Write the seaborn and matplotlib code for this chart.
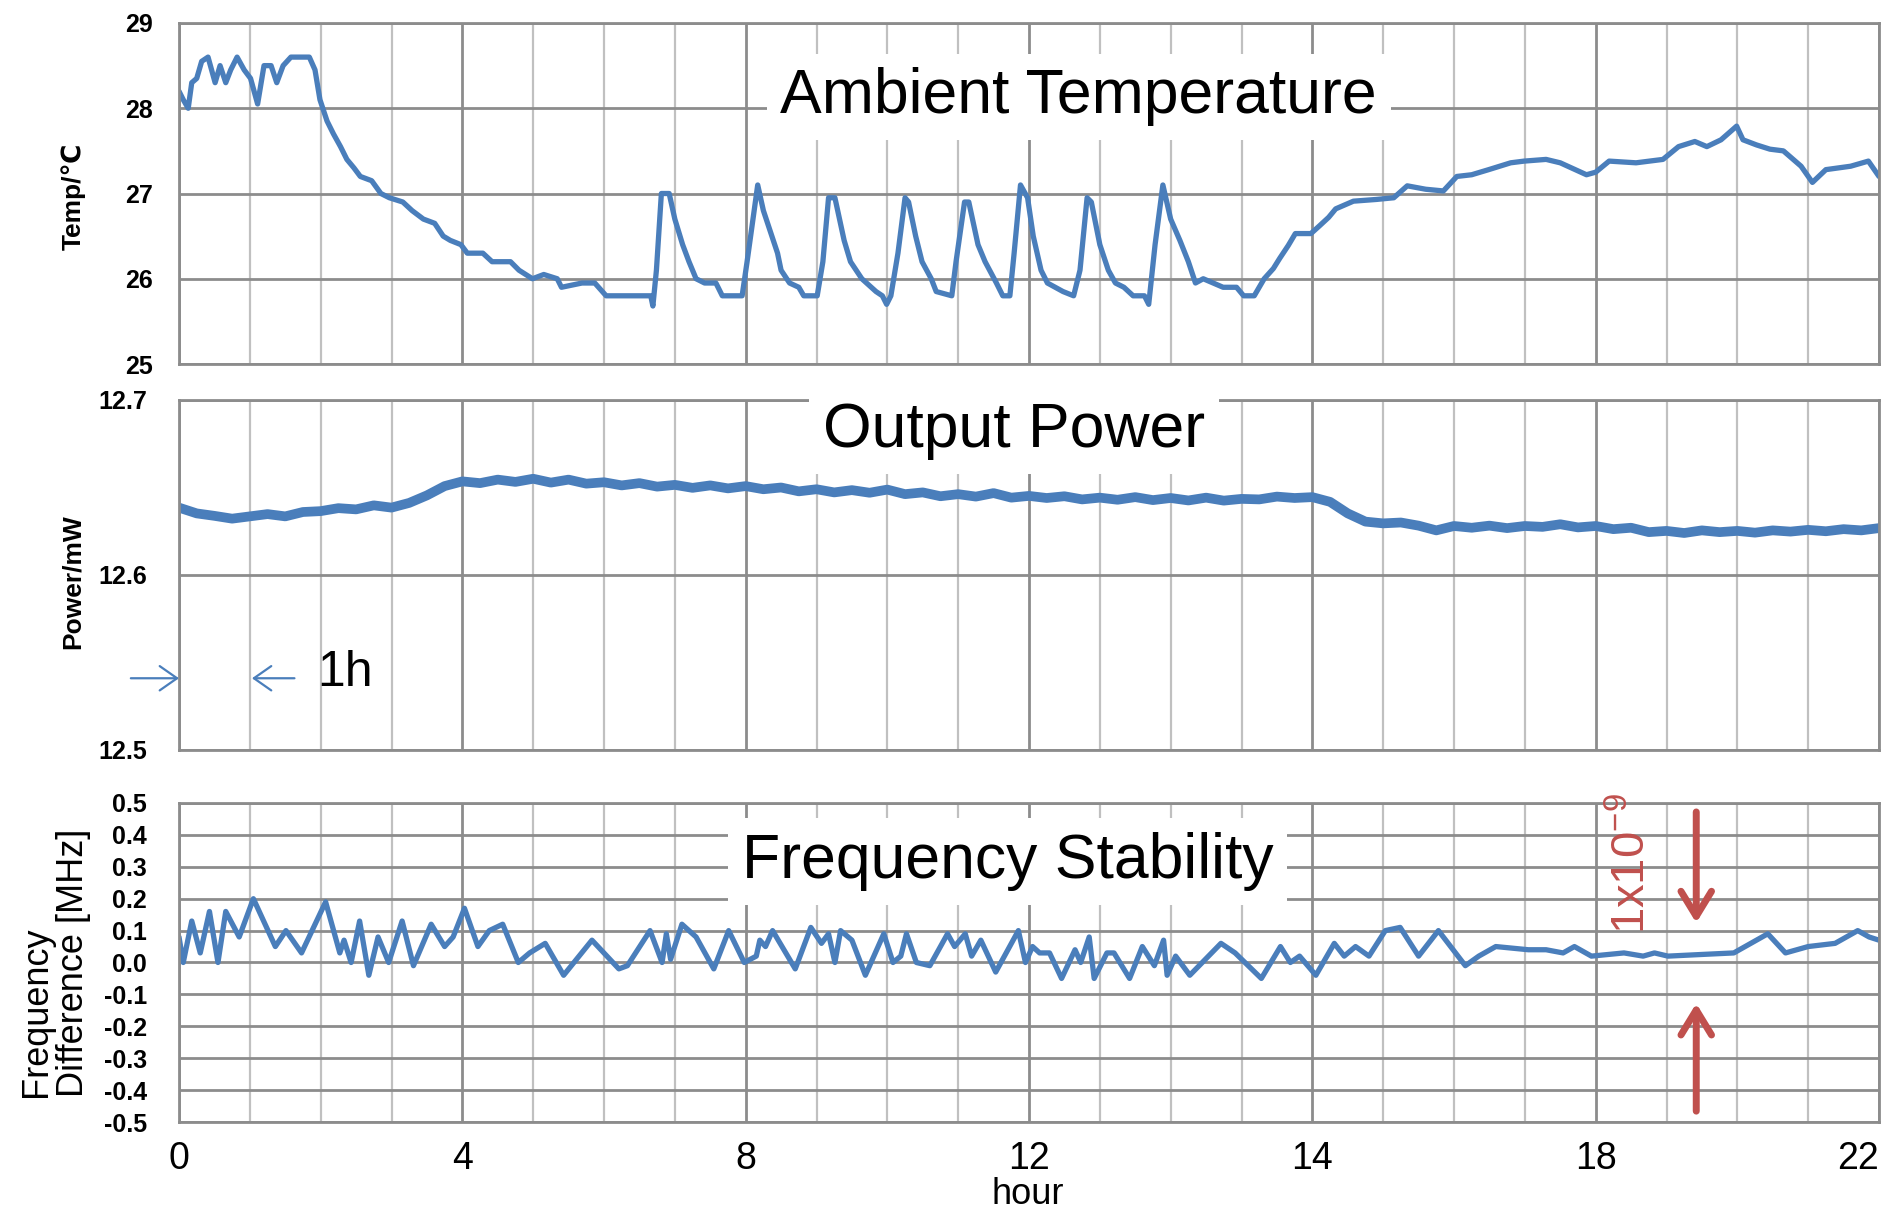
import matplotlib
matplotlib.use("Agg")
import matplotlib.pyplot as plt
from matplotlib.ticker import MultipleLocator
import seaborn as sns

# Style
sns.set_style("white")
plt.rcParams['font.family'] = ['Liberation Sans', 'DejaVu Sans']
plt.rcParams['mathtext.fontset'] = 'custom'
plt.rcParams['mathtext.rm'] = 'Liberation Sans'
plt.rcParams['mathtext.default'] = 'regular'
plt.rcParams['text.color'] = 'black'
plt.rcParams['xtick.color'] = 'black'
plt.rcParams['ytick.color'] = 'black'

NARROW = ['Liberation Sans Narrow', 'Liberation Sans', 'DejaVu Sans']
BLUE = '#4a7ebb'
RED = '#c0504d'
MAJOR_GRID = '#8c8c8c'
MINOR_GRID = '#c0c0c0'

# Ambient temperature (hour, degC)
TEMP_HOURS = [0.0, 0.06, 0.13, 0.18, 0.25, 0.32, 0.41, 0.51, 0.58, 0.66,
              0.73, 0.82, 0.92, 1.01, 1.11, 1.2, 1.3, 1.38, 1.47, 1.58,
              1.84, 1.92, 1.99, 2.09, 2.18, 2.28, 2.37, 2.47, 2.56, 2.72,
              2.85, 2.97, 3.16, 3.29, 3.45, 3.61, 3.73, 3.83, 3.98, 4.07,
              4.29, 4.42, 4.68, 4.8, 4.99, 5.15, 5.34, 5.4, 5.69, 5.87,
              6.03, 6.66, 6.69, 6.74, 6.81, 6.92, 7.0, 7.11, 7.2, 7.3,
              7.42, 7.58, 7.67, 7.95, 8.02, 8.17, 8.25, 8.35, 8.45, 8.5,
              8.62, 8.75, 8.82, 9.01, 9.09, 9.17, 9.26, 9.39, 9.48, 9.64,
              9.84, 9.93, 9.99, 10.05, 10.15, 10.25, 10.3, 10.4, 10.49, 10.62,
              10.69, 10.91, 10.97, 11.09, 11.15, 11.28, 11.38, 11.54, 11.63, 11.73,
              11.79, 11.88, 11.98, 12.06, 12.17, 12.26, 12.48, 12.63, 12.72, 12.82,
              12.88, 13.0, 13.12, 13.22, 13.34, 13.47, 13.63, 13.69, 13.78, 13.89,
              14.0, 14.13, 14.25, 14.35, 14.46, 14.6, 14.74, 14.93, 15.03, 15.18,
              15.32, 15.45, 15.54, 15.66, 15.76, 15.98, 16.1, 16.23, 16.33, 16.58,
              16.9, 17.15, 17.34, 17.6, 17.85, 18.04, 18.25, 18.49, 18.8, 18.99,
              19.3, 19.5, 19.87, 20.0, 20.19, 20.57, 20.95, 21.17, 21.4, 21.57,
              21.77, 21.99, 22.08, 22.27, 22.46, 22.65, 22.9, 23.06, 23.25, 23.6,
              23.85, 24.0]
TEMP_VALUES = [28.2, 28.1, 28.0, 28.3, 28.35, 28.55, 28.6, 28.3, 28.5, 28.3,
               28.45, 28.6, 28.45, 28.35, 28.05, 28.5, 28.5, 28.3, 28.5, 28.6,
               28.6, 28.45, 28.1, 27.85, 27.7, 27.55, 27.4, 27.3, 27.2, 27.15,
               27.0, 26.95, 26.9, 26.8, 26.7, 26.65, 26.5, 26.45, 26.4, 26.3,
               26.3, 26.2, 26.2, 26.1, 26.0, 26.05, 26.0, 25.9, 25.95, 25.95,
               25.8, 25.8, 25.68, 26.1, 27.0, 27.0, 26.7, 26.4, 26.2, 26.0,
               25.95, 25.95, 25.8, 25.8, 26.2, 27.1, 26.8, 26.55, 26.3, 26.1,
               25.95, 25.9, 25.8, 25.8, 26.2, 26.95, 26.95, 26.45, 26.2, 26.0,
               25.85, 25.8, 25.7, 25.8, 26.3, 26.95, 26.9, 26.5, 26.2, 26.0,
               25.85, 25.8, 26.2, 26.9, 26.9, 26.4, 26.2, 25.95, 25.8, 25.8,
               26.3, 27.1, 26.95, 26.5, 26.1, 25.95, 25.85, 25.8, 26.1, 26.95,
               26.9, 26.4, 26.1, 25.95, 25.9, 25.8, 25.8, 25.7, 26.4, 27.1,
               26.7, 26.45, 26.2, 25.95, 26.0, 25.95, 25.9, 25.9, 25.8, 25.8,
               26.0, 26.12, 26.24, 26.39, 26.53, 26.53, 26.62, 26.72, 26.82, 26.91,
               26.93, 26.95, 27.09, 27.05, 27.03, 27.2, 27.22, 27.28, 27.36, 27.38,
               27.4, 27.36, 27.22, 27.25, 27.38, 27.36, 27.4, 27.55, 27.61, 27.55,
               27.63, 27.79, 27.63, 27.57, 27.52, 27.5, 27.32, 27.13, 27.28, 27.32,
               27.38, 27.2]

# Output power, every 15 minutes (mW)
POWER_HOURS = [i * 0.25 for i in range(97)]
POWER_VALUES = [12.6385, 12.6352, 12.6338, 12.6322, 12.6335,
                12.6348, 12.6335, 12.6360, 12.6365,
                12.6382, 12.6375, 12.6398, 12.6385,
                12.6412, 12.6455, 12.6508, 12.6535,
                12.6525, 12.6545, 12.6532, 12.6550,
                12.6528, 12.6545, 12.6522, 12.6530,
                12.6512, 12.6525, 12.6505, 12.6515,
                12.6498, 12.6512, 12.6495, 12.6508,
                12.6490, 12.6500, 12.6478, 12.6490,
                12.6472, 12.6485, 12.6470, 12.6488,
                12.6462, 12.6472, 12.6450, 12.6462,
                12.6448, 12.6468, 12.6442, 12.6452,
                12.6440, 12.6450, 12.6432, 12.6442,
                12.6430, 12.6445, 12.6428, 12.6440,
                12.6426, 12.6442, 12.6425, 12.6435,
                12.6432, 12.6448, 12.6440, 12.6445,
                12.6418, 12.6352, 12.6305, 12.6295,
                12.6300, 12.6282, 12.6255, 12.6280,
                12.6270, 12.6282, 12.6268, 12.6280,
                12.6275, 12.6290, 12.6272, 12.6280,
                12.6262, 12.6270, 12.6245, 12.6252,
                12.6240, 12.6255, 12.6245, 12.6252,
                12.6242, 12.6255, 12.6248, 12.6258,
                12.6250, 12.6262, 12.6255, 12.6268]

# Frequency difference (hour, MHz)
FREQ_HOURS = [0.0, 0.06, 0.18, 0.3, 0.43, 0.55, 0.66, 0.85, 1.05, 1.36,
              1.51, 1.73, 2.07, 2.27, 2.33, 2.43, 2.55, 2.68, 2.81, 2.96,
              3.15, 3.31, 3.56, 3.75, 3.87, 4.03, 4.22, 4.38, 4.57, 4.79,
              4.95, 5.17, 5.43, 5.83, 6.21, 6.33, 6.65, 6.82, 6.88, 6.94,
              7.1, 7.3, 7.55, 7.76, 7.98, 8.15, 8.2, 8.28, 8.38, 8.7,
              8.92, 9.07, 9.17, 9.26, 9.34, 9.5, 9.69, 9.95, 10.08, 10.19,
              10.27, 10.41, 10.6, 10.85, 10.95, 11.1, 11.19, 11.32, 11.53, 11.85,
              11.95, 12.05, 12.15, 12.29, 12.46, 12.65, 12.73, 12.85, 12.92, 13.1,
              13.2, 13.42, 13.6, 13.77, 13.9, 13.95, 14.07, 14.27, 14.71, 14.91,
              15.28, 15.55, 15.69, 15.82, 16.05, 16.31, 16.45, 16.61, 16.8, 17.03,
              17.24, 17.5, 17.78, 18.16, 18.35, 18.59, 19.05, 19.3, 19.54, 19.7,
              19.94, 20.4, 20.67, 20.83, 21.02, 21.48, 21.95, 22.19, 22.43, 22.68,
              23.0, 23.38, 23.7, 23.86, 24.0]
FREQ_VALUES = [0.08, 0.0, 0.13, 0.03, 0.16, 0.0, 0.16, 0.08, 0.2, 0.05,
               0.1, 0.03, 0.19, 0.03, 0.07, 0.0, 0.13, -0.04, 0.08, 0.0,
               0.13, -0.01, 0.12, 0.05, 0.08, 0.17, 0.05, 0.1, 0.12, 0.0,
               0.03, 0.06, -0.04, 0.07, -0.02, -0.01, 0.1, 0.0, 0.09, 0.01,
               0.12, 0.08, -0.02, 0.1, 0.0, 0.02, 0.07, 0.05, 0.1, -0.02,
               0.11, 0.06, 0.09, 0.0, 0.1, 0.07, -0.04, 0.09, 0.0, 0.02,
               0.09, 0.0, -0.01, 0.09, 0.05, 0.09, 0.02, 0.07, -0.03, 0.1,
               0.0, 0.05, 0.03, 0.03, -0.05, 0.04, 0.0, 0.08, -0.05, 0.03,
               0.03, -0.05, 0.05, -0.01, 0.07, -0.04, 0.02, -0.04, 0.06, 0.03,
               -0.05, 0.05, 0.0, 0.02, -0.04, 0.06, 0.02, 0.05, 0.02, 0.1,
               0.11, 0.02, 0.1, -0.01, 0.02, 0.05, 0.04, 0.04, 0.03, 0.05,
               0.02, 0.03, 0.02, 0.03, 0.02, 0.025, 0.03, 0.06, 0.09, 0.03,
               0.05, 0.06, 0.1, 0.08, 0.07]

HOUR_TICKS = [0, 4, 8, 12, 16, 20, 24]
HOUR_LABELS = ["0", "4", "8", "12", "14", "18", "22"]
TEMP_TICKS = [25, 26, 27, 28, 29]
POWER_TICKS = [12.5, 12.6, 12.7]
FREQ_TICKS = [-0.5, -0.4, -0.3, -0.2, -0.1, 0.0, 0.1, 0.2, 0.3, 0.4, 0.5]

W, H = 1901, 1213
fig = plt.figure(figsize=(W / 100, H / 100), dpi=100)


def box(top, bottom):
    return [179 / W, 1 - bottom / H, 1700 / W, (bottom - top) / H]


ax1 = fig.add_axes(box(23, 364))
ax2 = fig.add_axes(box(400, 750))
ax3 = fig.add_axes(box(803, 1122))


def style_axes(ax, ticks, labels, pad):
    ax.set_xlim(0, 24)
    ax.set_ylim(ticks[0], ticks[-1])
    ax.set_xticks(HOUR_TICKS)
    ax.xaxis.set_minor_locator(MultipleLocator(1))
    ax.set_yticks(ticks, labels)
    ax.grid(which='major', axis='both', color=MAJOR_GRID, lw=2)
    ax.grid(which='minor', axis='x', color=MINOR_GRID, lw=1.6)
    ax.tick_params(which='both', length=0, labelbottom=False)
    ax.tick_params(axis='y', pad=pad)
    for lab in ax.get_yticklabels():
        lab.set_fontfamily(NARROW)
        lab.set_fontsize(18)
        lab.set_fontweight('bold')
    for s in ax.spines.values():
        s.set_color(MAJOR_GRID)
        s.set_linewidth(2)
    ax.set_axisbelow(True)
    ax.set_xlabel('')
    ax.set_ylabel('')


sns.lineplot(x=TEMP_HOURS, y=TEMP_VALUES, ax=ax1, color=BLUE, linewidth=3.8,
             estimator=None, sort=False, solid_joinstyle='round')
sns.lineplot(x=POWER_HOURS, y=POWER_VALUES, ax=ax2, color=BLUE, linewidth=7,
             estimator=None, sort=False, solid_joinstyle='round')
sns.lineplot(x=FREQ_HOURS, y=FREQ_VALUES, ax=ax3, color=BLUE, linewidth=3.8,
             estimator=None, sort=False, solid_joinstyle='round')

style_axes(ax1, TEMP_TICKS, [str(t) for t in TEMP_TICKS], 19)
style_axes(ax2, POWER_TICKS, [f"{t:.1f}" for t in POWER_TICKS], 23)
style_axes(ax3, FREQ_TICKS, [f"{t:.1f}" for t in FREQ_TICKS], 23)

ax3.tick_params(axis='x', labelbottom=True, pad=14)
ax3.set_xticks(HOUR_TICKS, HOUR_LABELS)
for lab in ax3.get_xticklabels():
    lab.set_fontfamily(NARROW)
    lab.set_fontsize(27)
ax3.get_xticklabels()[-1].set_ha('right')

# panel titles with white boxes
title_box = dict(facecolor='white', edgecolor='none', boxstyle='square,pad=0.22')
ax1.text(12.7, 27.94, 'Ambient Temperature', ha='center', va='baseline',
         fontsize=45, bbox=title_box, zorder=6)
ax2.text(11.79, 12.673, 'Output Power', ha='center', va='baseline',
         fontsize=45, bbox=title_box, zorder=6)
ax3.text(11.7, 0.265, 'Frequency Stability', ha='center', va='baseline',
         fontsize=45, bbox=title_box, zorder=6)

# axis labels
fig.text(73 / W, 1 - 196 / H, 'Temp/℃', rotation=90, ha='center', va='center',
         fontsize=19, fontweight='bold')
fig.text(73 / W, 1 - 582 / H, 'Power/mW', rotation=90, ha='center', va='center',
         fontsize=19, fontweight='bold')
fig.text(55 / W, 1 - 1097 / H, 'Frequency\nDifference [MHz]', rotation=90,
         ha='center', va='bottom', multialignment='left', fontsize=26,
         linespacing=1.05)
fig.text(1028 / W, 1 - 1194 / H, 'hour', ha='center', va='center', fontsize=26)

# 1h marker
thin = dict(arrowstyle='->,head_length=0.5,head_width=0.35', color=BLUE, lw=1.6,
            mutation_scale=25, shrinkA=0, shrinkB=0)
ax2.annotate('', xy=(0, 12.541), xytext=(-0.68, 12.541), arrowprops=thin,
             annotation_clip=False)
ax2.annotate('', xy=(1.03, 12.541), xytext=(1.63, 12.541), arrowprops=thin,
             annotation_clip=False)
ax2.text(1.95, 12.544, '1h', ha='left', va='center', fontsize=36,
         fontfamily=NARROW)

# 1x10^-9 band
thick = dict(arrowstyle='->,head_length=0.9,head_width=0.55', color=RED, lw=5,
             mutation_scale=20, shrinkA=0, shrinkB=0)
ax3.annotate('', xy=(21.42, 0.124), xytext=(21.42, 0.472), arrowprops=thick)
ax3.annotate('', xy=(21.42, -0.128), xytext=(21.42, -0.466), arrowprops=thick)
ax3.text(20.52, 0.09, r'1x10$^{-9}$', rotation=90, ha='center', va='bottom',
         fontsize=34, color=RED, clip_on=False, zorder=6)

fig.savefig('out.png', dpi=100)
